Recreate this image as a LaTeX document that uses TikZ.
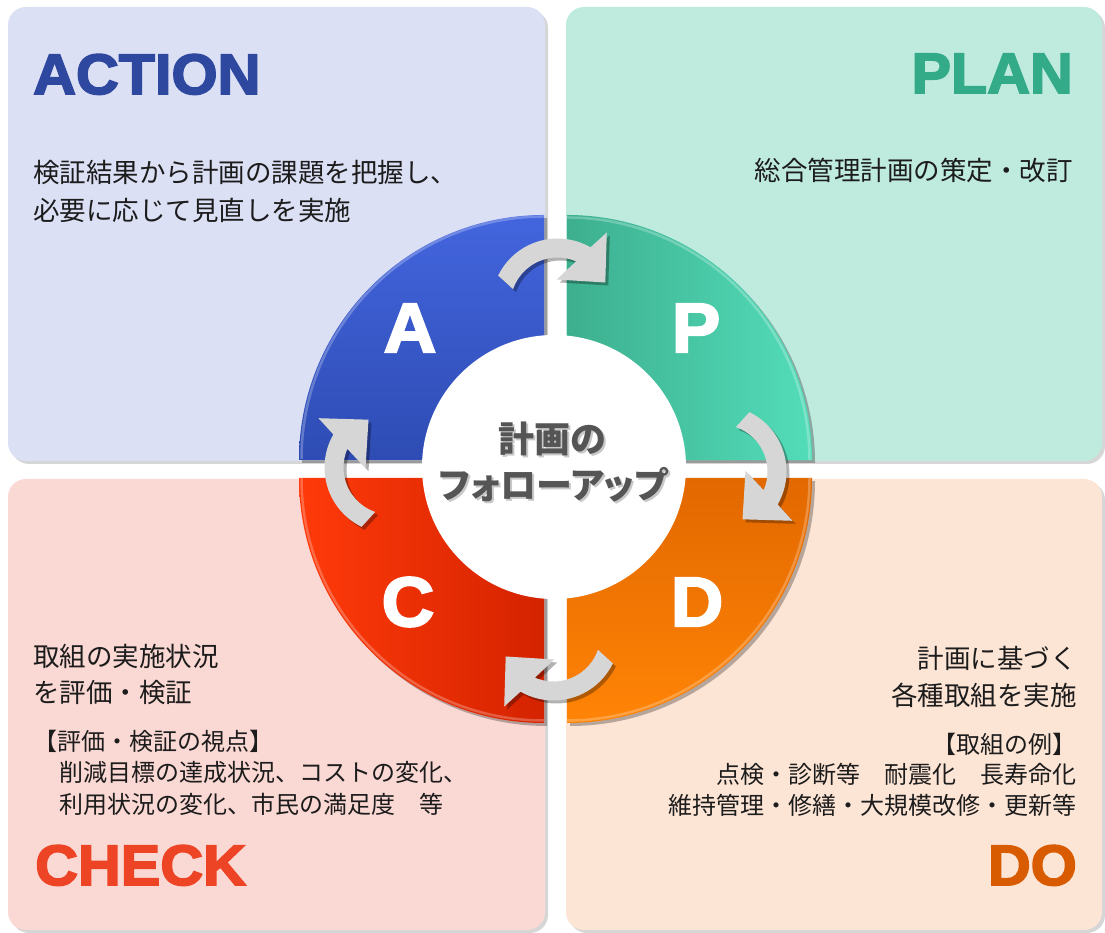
\documentclass[tikz,border=0pt]{standalone}
\usepackage{fontspec}
\setmainfont{Liberation Sans}
\newfontfamily\jp{Noto Sans CJK JP}
\newfontfamily\jpp[RawFeature=+palt]{Noto Sans CJK JP}
\newfontfamily\heavy[BoldFeatures={FakeBold=3,FakeStretch=1.04}]{Liberation Sans}
\definecolor{pA}{HTML}{DCE0F5}
\definecolor{pP}{HTML}{BFEADE}
\definecolor{pC}{HTML}{FAD8D3}
\definecolor{pD}{HTML}{FDE5D6}
\definecolor{tA}{HTML}{2E479F}
\definecolor{tP}{HTML}{33AA88}
\definecolor{tC}{HTML}{EE4426}
\definecolor{tD}{HTML}{D95B00}
\definecolor{qAt}{HTML}{4365DE}
\definecolor{qAb}{HTML}{2E4CB3}
\definecolor{qPl}{HTML}{3DAF8F}
\definecolor{qPr}{HTML}{53DDB9}
\definecolor{qCl}{HTML}{FF3A0A}
\definecolor{qCr}{HTML}{D42300}
\definecolor{qDt}{HTML}{E26800}
\definecolor{qDb}{HTML}{FF8406}
\definecolor{arrowgray}{HTML}{D6D6D6}
\definecolor{hubtext}{HTML}{555555}
\definecolor{ink}{HTML}{1C1C1C}
\begin{document}
\begin{tikzpicture}[x=1pt,y=1pt,
  panel/.style={rounded corners=18pt},
  pshadow/.style={fill=black, fill opacity=0.16, rounded corners=18pt},
  qshadow/.style={fill=black, fill opacity=0.28},
  rim/.style={white, opacity=0.25, line width=2.5pt},
  title/.style={inner sep=0pt, font=\heavy\bfseries\fontsize{57}{60}\selectfont},
  body/.style={inner sep=0pt, text=ink, font=\jp\fontsize{26.5}{30}\selectfont},
  sub/.style={inner sep=0pt, text=ink, font=\jp\fontsize{24}{28}\selectfont},
  letter/.style={inner sep=0pt, text=white, font=\heavy\bfseries\fontsize{70}{72}\selectfont},
  hubtxt/.style={inner sep=0pt, font=\jpp\bfseries\fontsize{36}{40}\selectfont},
  cyc/.pic={
    \path[pic actions, shift={(2,165)}]
      (154:66pt) arc[start angle=154, end angle=60, radius=66pt]
      -- (49.3,72) -- (47.8,22) -- (-0.7,25)
      -- (66.7:47pt) arc[start angle=66.7, end angle=161, radius=47pt] -- cycle;
  }
]
\useasboundingbox (0,0) rectangle (1105,933);
\fill[white] (0,0) rectangle (1105,933);

% panels
\fill[pshadow] (11,469) rectangle (548,923);
\fill[pshadow] (569,469) rectangle (1105,923);
\fill[pshadow] (11,0) rectangle (548,451);
\fill[pshadow] (569,0) rectangle (1105,451);
\fill[pA, panel] (8,472) rectangle (545,926);
\fill[pP, panel] (566,472) rectangle (1102,926);
\fill[pC, panel] (8,3) rectangle (545,454);
\fill[pD, panel] (566,3) rectangle (1102,454);

% wheel quadrants
\begin{scope}[shift={(3,-3)}]
\fill[qshadow] (544,473) -- (299,473) arc[start angle=180, end angle=90, radius=245pt] -- cycle;
\fill[qshadow] (567,473) -- (567,718) arc[start angle=90, end angle=0, radius=245pt] -- cycle;
\fill[qshadow] (544,455) -- (299,455) arc[start angle=180, end angle=270, radius=245pt] -- cycle;
\fill[qshadow] (567,455) -- (812,455) arc[start angle=0, end angle=-90, radius=245pt] -- cycle;
\end{scope}
\shade[top color=qAt, bottom color=qAb] (544,473) -- (299,473) arc[start angle=180, end angle=90, radius=245pt] -- cycle;
\shade[left color=qPl, right color=qPr] (567,473) -- (567,718) arc[start angle=90, end angle=0, radius=245pt] -- cycle;
\shade[left color=qCl, right color=qCr] (544,455) -- (299,455) arc[start angle=180, end angle=270, radius=245pt] -- cycle;
\shade[top color=qDt, bottom color=qDb] (567,455) -- (812,455) arc[start angle=0, end angle=-90, radius=245pt] -- cycle;
\draw[rim] (301.5,474) arc[start angle=180, end angle=90, radius=242.5pt];
\draw[rim] (567,715.5) arc[start angle=90, end angle=0, radius=242.5pt];
\draw[rim] (301.5,455) arc[start angle=180, end angle=270, radius=242.5pt];
\draw[rim] (809.5,455) arc[start angle=0, end angle=-90, radius=242.5pt];

% quadrant letters
\node[letter] (lA) at (410,605) {A};
\node[letter] (lP) at (696,605) {P};
\node[letter] (lC) at (408,331) {C};
\node[letter] (lD) at (697,331) {D};

% hub
\node[circle, fill=white, minimum size=264pt, inner sep=0pt] (hub) at (554,466) {};
\node[hubtxt, text=black!30, opacity=0.7, anchor=base] (hub1s) at (554.5,478.3) {計画の};
\node[hubtxt, text=black!30, opacity=0.7, anchor=base] (hub2s) at (555,432.7) {フォローアップ};
\node[hubtxt, text=hubtext, anchor=base] (hub1) at (552.5,480.3) {計画の};
\node[hubtxt, text=hubtext, anchor=base] (hub2) at (553,434.7) {フォローアップ};

% cycle arrows
\coordinate (W) at (555.5,463.5);
\coordinate (Ws) at (558.5,460.5);
\foreach \k in {0,1,2,3}{
  \pic[rotate=-90*\k, fill=black, fill opacity=0.3] at (Ws) {cyc};
  \pic[rotate=-90*\k, fill=arrowgray] at (W) {cyc};
}

% titles
\node[title, text=tA, anchor=base west] (tAct) at (33,839) {ACTION};
\node[title, text=tP, anchor=base east] (tPlan) at (1073,840) {PLAN};
\node[title, text=tC, anchor=base west] (tChk) at (35,48) {CHECK};
\node[title, text=tD, anchor=base east] (tDo) at (1077,48) {DO};

% texts
\node[body, anchor=base west] (aL1) at (33,750.5) {検証結果から計画の課題を把握し、};
\node[body, anchor=base west] (aL2) at (33,712) {必要に応じて見直しを実施};
\node[body, anchor=base east] (pL1) at (1073,752) {総合管理計画の策定・改訂};

\node[body, anchor=base west] (cL1) at (33,266) {取組の実施状況};
\node[body, anchor=base west] (cL2) at (33,230.5) {を評価・検証};
\node[sub, anchor=base west] (cS0) at (33,182) {【評価・検証の視点】};
\node[sub, anchor=base west] (cS1) at (35,151) {　削減目標の達成状況、コストの変化、};
\node[sub, anchor=base west] (cS2) at (35,119) {　利用状況の変化、市民の満足度　等};

\node[body, anchor=base east] (dL1) at (1077,264) {計画に基づく};
\node[body, anchor=base east] (dL2) at (1077,227) {各種取組を実施};
\node[sub, anchor=base east] (dS0) at (1077,179) {【取組の例】};
\node[sub, anchor=base east] (dS1) at (1077,149) {点検・診断等　耐震化　長寿命化};
\node[sub, anchor=base east] (dS2) at (1077,118) {維持管理・修繕・大規模改修・更新等};
\end{tikzpicture}
\end{document}
